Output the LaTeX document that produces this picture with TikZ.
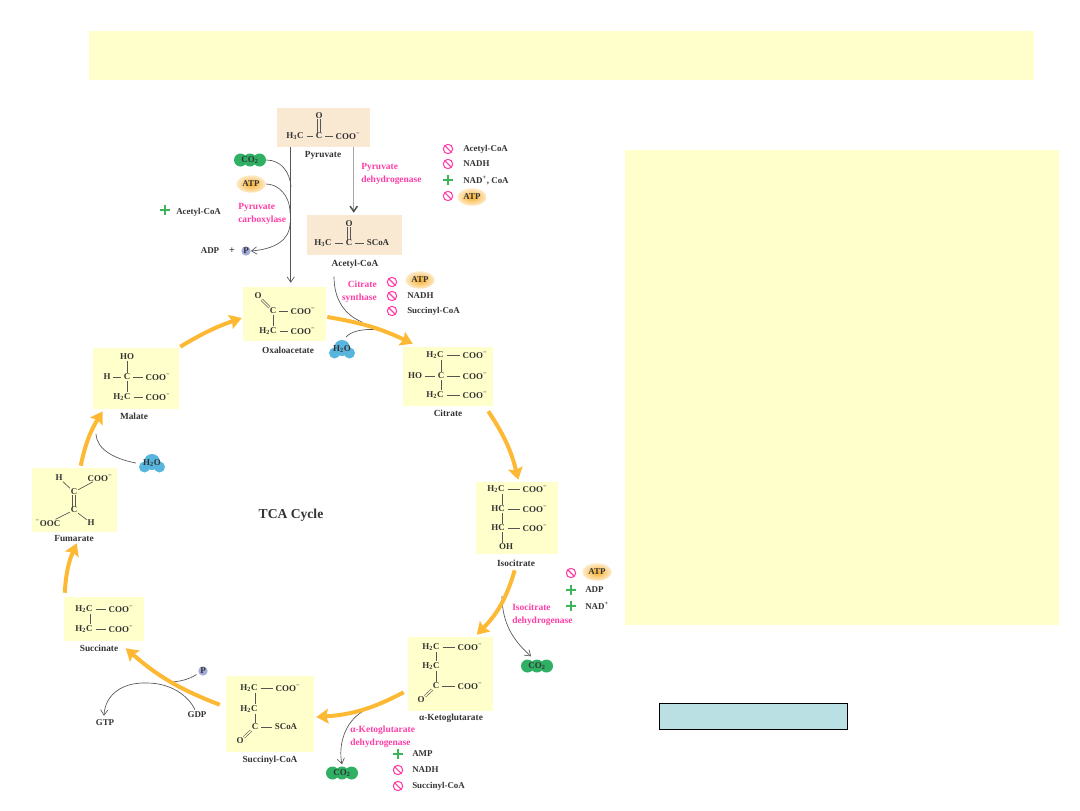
\documentclass[tikz,border=0pt]{standalone}
\usepackage{fontspec}
\usepackage{xcolor}
\usepackage{tikz}
\usetikzlibrary{arrows.meta, fit, shapes.geometric}
\setmainfont{Liberation Serif}
\definecolor{molyellow}{HTML}{FFFFCC}
\definecolor{molpeach}{HTML}{F9E9D3}
\definecolor{cycarrow}{HTML}{FDB934}
\definecolor{enzpink}{HTML}{FF3DA6}
\definecolor{plusgreen}{HTML}{3DB35A}
\definecolor{co2green}{HTML}{2FB064}
\definecolor{h2oblue}{HTML}{58B5DE}
\definecolor{phosblue}{HTML}{A3ABDA}
\definecolor{atporange}{HTML}{F9AF2A}
\definecolor{notebox}{HTML}{BBE0E3}
\definecolor{linegray}{HTML}{555555}
\newcommand{\coo}{COO\textsuperscript{−}}

\begin{document}
\begin{tikzpicture}[
    x=0.75pt, y=-0.75pt,
    every node/.style={inner sep=0pt, font=\fontsize{6.7}{7.5}\selectfont\bfseries, text=black!80},
    mol/.style={fill=molyellow, fit={#1}},
    premol/.style={fill=molpeach, fit={#1}},
    molname/.style={font=\fontsize{7}{7.5}\selectfont\bfseries},
    enzyme/.style={text=enzpink, align=left, font=\fontsize{7.1}{7.4}\selectfont\bfseries},
    effector/.style={anchor=west},
    bond/.style={draw=linegray, line width=0.5pt, shorten >=2pt, shorten <=2pt},
    vbond/.style={draw=linegray, line width=0.5pt, shorten >=0.5pt, shorten <=0.5pt},
    twin/.style={draw=linegray, line width=0.45pt},
    dbond/.style={draw=linegray, line width=0.45pt, double=molyellow, double distance=1pt, shorten >=0.5pt, shorten <=0.5pt},
    cycarr/.style={draw=cycarrow, line width=3pt, -{Stealth[length=9pt, width=11pt, inset=1.5pt]}},
    thinarr/.style={draw=linegray, line width=0.5pt, -{Straight Barb[length=4pt, width=5.5pt]}},
    thincurve/.style={draw=linegray, line width=0.5pt},
    blocked/.style={circle, draw=enzpink, line width=0.8pt, minimum size=7pt,
        path picture={\draw[enzpink, line width=0.8pt] (path picture bounding box.north west) -- (path picture bounding box.south east);}},
    activ/.style={minimum size=8pt,
        path picture={\draw[plusgreen, line width=1pt] (path picture bounding box.north) -- (path picture bounding box.south)
            (path picture bounding box.west) -- (path picture bounding box.east);}},
    atpglow/.style={ellipse, inner color=atporange, outer color=atporange!25!white, minimum width=22pt, minimum height=13pt},
    co2/.style={minimum width=24pt, minimum height=9.6pt},
    phos/.style={circle, fill=phosblue, minimum size=7pt}
]
\useasboundingbox (0,0) rectangle (1080,810);

% slide panels
\node[fill=molyellow, fit={(89,31) (1034,80)}] (titlebar) {};
\node[fill=molyellow, fit={(625,150) (1059,625)}] (sidepanel) {};
\node[fill=notebox, draw=black, line width=0.7pt, fit={(659,703) (847,729)}] (notefield) {};

% boxes behind the formulas
\node[premol={(277,108) (370,147)}] (pyruvate) {};
\node[premol={(307,215) (402,255)}] (acetyl) {};
\node[mol={(243,287) (326,341)}] (oxalo) {};
\node[mol={(403,347) (493,406)}] (citrate) {};
\node[mol={(476,482) (558,554)}] (isocit) {};
\node[mol={(408,637) (493,711)}] (ketoglu) {};
\node[mol={(226,676) (314,752)}] (succoa) {};
\node[mol={(64,597) (144,641)}] (succinate) {};
\node[mol={(32,468) (117,532)}] (fumarate) {};
\node[mol={(93,348) (179,409)}] (malate) {};

% pyruvate
\node (pyrO) at (319,116) {O};
\node (pyrC) at (319,136) {C};
\node (pyrH) at (295,136) {H\textsubscript{3}C};
\node (pyrA) at (348,136) {\coo};
\node[molname] (pyrname) at (323,155) {Pyruvate};
\draw[twin] ([shift={(-1.3,0)}]pyrO.south) -- ([shift={(-1.3,0)}]pyrC.north);
\draw[twin] ([shift={(1.3,0)}]pyrO.south) -- ([shift={(1.3,0)}]pyrC.north);
\draw[bond] (pyrH) -- (pyrC);
\draw[bond] (pyrC) -- (pyrA);

% acetyl-CoA
\node (aceO) at (349,224) {O};
\node (aceC) at (349,243) {C};
\node (aceH) at (323,243) {H\textsubscript{3}C};
\node (aceS) at (378,243) {SCoA};
\node[molname] (acename) at (355,264) {Acetyl-CoA};
\draw[twin] ([shift={(-1.3,0)}]aceO.south) -- ([shift={(-1.3,0)}]aceC.north);
\draw[twin] ([shift={(1.3,0)}]aceO.south) -- ([shift={(1.3,0)}]aceC.north);
\draw[bond] (aceH) -- (aceC);
\draw[bond] (aceC) -- (aceS);

% oxaloacetate
\node (oxaO) at (258,296) {O};
\node (oxaC) at (273,311) {C};
\node (oxaA) at (303,311) {\coo};
\node (oxaH) at (268,331) {H\textsubscript{2}C};
\node (oxaB) at (303,331) {\coo};
\node[molname] (oxaname) at (288,350) {Oxaloacetate};
\draw[dbond] (oxaO) -- (oxaC);
\draw[bond] (oxaC) -- (oxaA);
\draw[vbond] (oxaC) -- (oxaC |- oxaH.north);
\draw[bond] (oxaH) -- (oxaB);

% citrate
\node (citH) at (435,355) {H\textsubscript{2}C};
\node (citA) at (475,355) {\coo};
\node (citO) at (415,376) {HO};
\node (citC) at (441,376) {C};
\node (citB) at (475,376) {\coo};
\node (citI) at (435,395) {H\textsubscript{2}C};
\node (citD) at (475,395) {\coo};
\node[molname] (citname) at (448,413) {Citrate};
\draw[bond] (citH) -- (citA);
\draw[bond] (citO) -- (citC);
\draw[bond] (citC) -- (citB);
\draw[bond] (citI) -- (citD);
\draw[vbond] (citC |- citH.south) -- (citC);
\draw[vbond] (citC) -- (citC |- citI.north);

% isocitrate
\node (isoH) at (496,489) {H\textsubscript{2}C};
\node (isoA) at (535,489) {\coo};
\node (isoC) at (498,509) {HC};
\node (isoB) at (535,509) {\coo};
\node (isoE) at (498,528) {HC};
\node (isoD) at (535,528) {\coo};
\node (isoO) at (506,547) {OH};
\node[molname] (isoname) at (516,563) {Isocitrate};
\draw[bond] (isoH) -- (isoA);
\draw[bond] (isoC) -- (isoB);
\draw[bond] (isoE) -- (isoD);
\draw[vbond] ([shift={(6,0)}]isoH.south) -- ([shift={(4,0)}]isoC.north);
\draw[vbond] ([shift={(4,0)}]isoC.south) -- ([shift={(4,0)}]isoE.north);
\draw[vbond] ([shift={(4,0)}]isoE.south) -- ([shift={(-4,0)}]isoO.north);

% alpha-ketoglutarate
\node (ketH) at (431,647) {H\textsubscript{2}C};
\node (ketA) at (470,647) {\coo};
\node (ketI) at (431,666) {H\textsubscript{2}C};
\node (ketC) at (436,686) {C};
\node (ketB) at (470,686) {\coo};
\node (ketO) at (421,700) {O};
\node[molname] (ketname) at (451,718) {α-Ketoglutarate};
\draw[bond] (ketH) -- (ketA);
\draw[vbond] (ketC |- ketH.south) -- (ketC |- ketI.north);
\draw[vbond] (ketC |- ketI.south) -- (ketC);
\draw[bond] (ketC) -- (ketB);
\draw[dbond] (ketC) -- (ketO);

% succinyl-CoA
\node (socH) at (249,688) {H\textsubscript{2}C};
\node (socA) at (288,688) {\coo};
\node (socI) at (249,709) {H\textsubscript{2}C};
\node (socC) at (255,727) {C};
\node (socS) at (286,727) {SCoA};
\node (socO) at (240,741) {O};
\node[molname] (socname) at (270,760) {Succinyl-CoA};
\draw[bond] (socH) -- (socA);
\draw[vbond] (socC |- socH.south) -- (socC |- socI.north);
\draw[vbond] (socC |- socI.south) -- (socC);
\draw[bond] (socC) -- (socS);
\draw[dbond] (socC) -- (socO);

% succinate
\node (sucH) at (84,609) {H\textsubscript{2}C};
\node (sucA) at (121,609) {\coo};
\node (sucI) at (84,629) {H\textsubscript{2}C};
\node (sucB) at (121,629) {\coo};
\node[molname] (sucname) at (99,648) {Succinate};
\draw[bond] (sucH) -- (sucA);
\draw[bond] (sucI) -- (sucB);
\draw[vbond] ([shift={(6,0)}]sucH.south) -- ([shift={(6,0)}]sucI.north);

% fumarate
\node (fumH) at (59,478) {H};
\node (fumA) at (100,478) {\coo};
\node (fumC) at (74,492) {C};
\node (fumD) at (74,510) {C};
\node (fumB) at (48,523) {\textsuperscript{−}OOC};
\node (fumI) at (91,523) {H};
\node[molname] (fumname) at (74,538) {Fumarate};
\draw[vbond] (fumH) -- (fumC);
\draw[vbond] (fumC) -- (fumA);
\draw[twin] ([shift={(-1.3,0)}]fumC.south) -- ([shift={(-1.3,0)}]fumD.north);
\draw[twin] ([shift={(1.3,0)}]fumC.south) -- ([shift={(1.3,0)}]fumD.north);
\draw[vbond] (fumD) -- (fumB);
\draw[vbond] (fumD) -- (fumI);

% malate
\node (malO) at (127,357) {HO};
\node (malH) at (107,377) {H};
\node (malC) at (127,377) {C};
\node (malA) at (158,377) {\coo};
\node (malI) at (122,397) {H\textsubscript{2}C};
\node (malB) at (158,397) {\coo};
\node[molname] (malname) at (134,416) {Malate};
\draw[vbond] (malO) -- (malC);
\draw[bond] (malH) -- (malC);
\draw[bond] (malC) -- (malA);
\draw[vbond] (malC) -- (malC |- malI.north);
\draw[bond] (malI) -- (malB);

\node[font=\fontsize{10.2}{11}\selectfont\bfseries] (tcaname) at (291,515) {TCA Cycle};

% small molecules
\foreach \cx/\cy in {250/160,537/666,342/773} {
    \fill[co2green] (\cx-9.5,\cy) circle (6.5);
    \fill[co2green] (\cx,\cy) circle (6.5);
    \fill[co2green] (\cx+9.5,\cy) circle (6.5);
}
\node[co2] (co2pc) at (250,160) {CO\textsubscript{2}};
\node[co2] (co2iso) at (537,666) {CO\textsubscript{2}};
\node[co2] (co2ket) at (342,773) {CO\textsubscript{2}};
\node[atpglow] (atppc) at (251,184) {ATP};
\node[atpglow] (atppdh) at (472,197) {ATP};
\node[atpglow] (atpcs) at (420,280) {ATP};
\node[atpglow] (atpidh) at (597,572) {ATP};
\foreach \wx/\wy in {342/349,152/463} {
    \fill[h2oblue] (\wx,\wy-1) circle (8);
    \fill[h2oblue] (\wx-7.5,\wy+4) circle (5.5);
    \fill[h2oblue] (\wx+7.5,\wy+4) circle (5.5);
}
\node (h2ocs) at (342,349) {H\textsubscript{2}O};
\node (h2ofum) at (152,463) {H\textsubscript{2}O};
\node[phos] (phospc) at (246,251) {P};
\node[phos] (phossuc) at (203,671) {P};
\node (adp) at (210,251) {ADP};
\node[font=\fontsize{7.5}{8}\selectfont\bfseries] (adpplus) at (232,251) {+};
\node (gtp) at (105,723) {GTP};
\node (gdp) at (197,715) {GDP};

% side branches
\coordinate (pcjoin) at (291,187);
\coordinate (pcatp) at (290,213);
\coordinate (pcout) at (290,223);
\coordinate (cswater) at (379,330);
\coordinate (csacetyl) at (362,322);
\coordinate (fumwater) at (96,434);
\coordinate (idhstart) at (502,596);
\coordinate (ketstart) at (362,712);
\coordinate (phosjoin) at (168,682);
\coordinate (gdptop) at (147,683);
\draw[thinarr] ([shift={(14,0)}]pyruvate.south west) -- ([shift={(48,-4)}]oxalo.north west);
\draw[draw=black!35, line width=1.1pt, -{Straight Barb[length=4pt, width=5.5pt, black!70]}] ([shift={(77,0)}]pyruvate.south west) -- ([shift={(47,-2)}]acetyl.north west);
\draw[thincurve] (co2pc.east) .. controls (281,160) and (290,172) .. (pcjoin);
\draw[thincurve] (atppc.east) .. controls (278,184) and (290,195) .. (pcatp);
\draw[thinarr] (pcout) .. controls (290,240) and (275,249) .. (phospc.east);
\draw[thincurve] ([shift={(-21,8)}]acename.south) .. controls (334,300) and (345,315) .. (csacetyl);
\draw[thincurve] ([shift={(4,-8)}]h2ocs.north) .. controls (350,332) and (362,328) .. (cswater);
\draw[thincurve] (fumwater) .. controls (97,450) and (115,459) .. ([shift={(-7,0)}]h2ofum.west);
\draw[thinarr] (idhstart) .. controls (502,625) and (515,642) .. ([shift={(-6,-3)}]co2iso.north);
\draw[thinarr] (ketstart) .. controls (345,722) and (338,745) .. ([shift={(0,-2)}]co2ket.north);
\draw[thincurve] ([shift={(-3,0)}]phossuc.south west) .. controls (188,680) and (178,682) .. (phosjoin);
\draw[thinarr] ([shift={(-2,-2)}]gdp.north) .. controls (188,695) and (170,683) .. (gdptop) .. controls (122,682) and (105,695) .. ([shift={(-1,-4)}]gtp.north);

% the cycle
\draw[cycarr] ([shift={(1,3)}]oxalo.east) to[bend left=8] ([shift={(10,-3)}]citrate.north west);
\draw[cycarr] ([shift={(-5,5)}]citrate.south east) to[bend left=10] ([shift={(-40,-2)}]isocit.north east);
\draw[cycarr] ([shift={(39,16)}]isocit.south west) to[bend left=14] ([shift={(69,-2)}]ketoglu.north west);
\draw[cycarr] ([shift={(-4,-19)}]ketoglu.south west) to[bend left=12] ([shift={(2,3)}]succoa.east);
\draw[cycarr] ([shift={(-6,29)}]succoa.north west) to[bend left=10] ([shift={(62,7)}]succinate.south west);
\draw[cycarr] ([shift={(1,-4)}]succinate.north west) to[bend left=10] ([shift={(45,11)}]fumarate.south west);
\draw[cycarr] ([shift={(49,-2)}]fumarate.north west) to[bend left=10] ([shift={(10,2)}]malate.south west);
\draw[cycarr] ([shift={(1,-1)}]malate.north east) to[bend left=6] ([shift={(-1,4)}]oxalo.west);

% enzymes
\node[enzyme, anchor=north west, align=left] (pdh) at (361,163) {Pyruvate\\[2pt]dehydrogenase};
\node[enzyme, anchor=north west, align=left] (pcb) at (238,203) {Pyruvate\\[2pt]carboxylase};
\node[enzyme, anchor=north east, align=right] (csy) at (377,281) {Citrate\\[2pt]synthase};
\node[enzyme, anchor=north west, align=left] (idh) at (512,604) {Isocitrate\\[2pt]dehydrogenase};
\node[enzyme, anchor=north west, align=left] (kdh) at (350,726) {α-Ketoglutarate\\[2pt]dehydrogenase};

% regulators
\node[blocked] (pdhA) at (448,149) {};
\node[blocked] (pdhB) at (448,164) {};
\node[activ] (pdhC) at (448,180) {};
\node[blocked] (pdhD) at (448,196) {};
\node[effector] (pdhAt) at (463,149) {Acetyl-CoA};
\node[effector] (pdhBt) at (463,164) {NADH};
\node[effector] (pdhCt) at (463,180) {NAD\textsuperscript{+}, CoA};
\node[activ] (pcbA) at (165,210) {};
\node[effector] (pcbAt) at (176,212) {Acetyl-CoA};
\node[blocked] (csyA) at (392,282) {};
\node[blocked] (csyB) at (392,296) {};
\node[blocked] (csyC) at (392,311) {};
\node[effector] (csyBt) at (407,296) {NADH};
\node[effector] (csyCt) at (407,311) {Succinyl-CoA};
\node[blocked] (idhA) at (571,573) {};
\node[activ] (idhB) at (571,590) {};
\node[activ] (idhC) at (571,606) {};
\node[effector] (idhBt) at (585,590) {ADP};
\node[effector] (idhCt) at (585,606) {NAD\textsuperscript{+}};
\node[activ] (kdhA) at (398,754) {};
\node[blocked] (kdhB) at (398,770) {};
\node[blocked] (kdhC) at (398,786) {};
\node[effector] (kdhAt) at (412,754) {AMP};
\node[effector] (kdhBt) at (412,770) {NADH};
\node[effector] (kdhCt) at (412,786) {Succinyl-CoA};
\end{tikzpicture}
\end{document}
